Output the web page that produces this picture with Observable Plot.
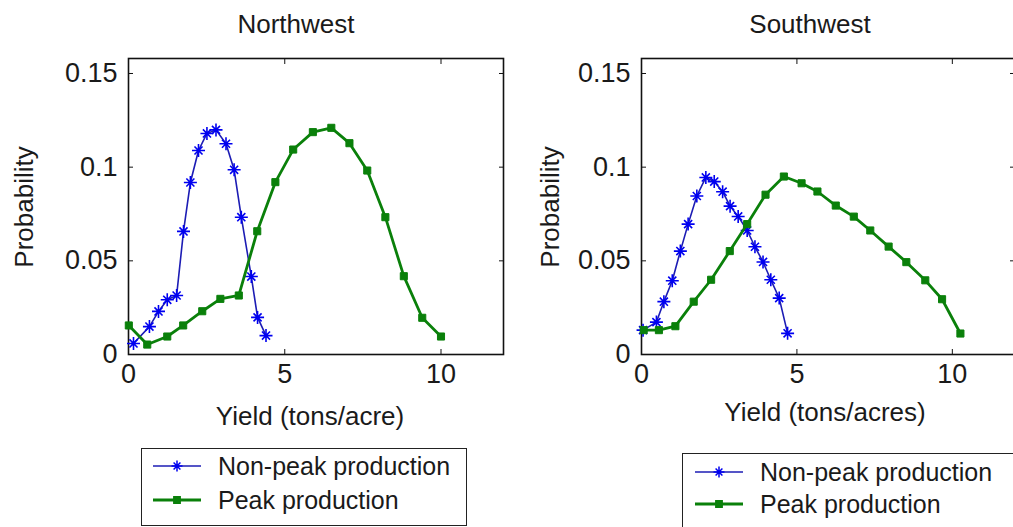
<!DOCTYPE html>
<html><head><meta charset="utf-8">
<script src="https://cdn.jsdelivr.net/npm/d3@7"></script>
<script src="https://cdn.jsdelivr.net/npm/@observablehq/plot@0.6"></script>
<style>
body{margin:0;background:#fff;}
#root{position:relative;width:1013px;height:527px;overflow:hidden;font-family:"Liberation Sans",Arial,sans-serif;color:#1a1a1a;background:#fff;}
.abs{position:absolute;white-space:nowrap;}
.panel{position:absolute;top:0;}
.panel svg{max-width:none !important;}
.legend{position:absolute;border:1.5px solid #222;background:#fff;}
</style></head><body><div id="root"></div>
<script>
// ---------- data ----------
const panelTitles = ["Northwest", "Southwest"];
const xLabels = ["Yield (tons/acre)", "Yield (tons/acres)"];
const yLabel = "Probability";
const seriesNames = ["Non-peak production", "Peak production"];
const xTicks = [0, 5, 10];
const xTickLabels = ["0", "5", "10"];
const yTicks = [0, 0.05, 0.1, 0.15];
const yTickLabels = ["0", "0.05", "0.1", "0.15"];

const nwNonPeakX = [0.16, 0.67, 0.96, 1.24, 1.54, 1.76, 1.98, 2.24, 2.51, 2.8, 3.12, 3.38, 3.61, 3.93, 4.13, 4.4];
const nwNonPeakY = [0.0059, 0.0149, 0.023, 0.0292, 0.0315, 0.0657, 0.0918, 0.1089, 0.118, 0.1199, 0.1125, 0.0986, 0.0733, 0.0416, 0.0198, 0.0101];
const nwPeakX = [0.01, 0.6, 1.24, 1.75, 2.36, 2.94, 3.53, 4.12, 4.7, 5.27, 5.9, 6.49, 7.07, 7.64, 8.22, 8.81, 9.4, 10.0];
const nwPeakY = [0.0155, 0.0053, 0.0096, 0.0155, 0.0231, 0.0297, 0.0315, 0.0658, 0.092, 0.1094, 0.1187, 0.121, 0.1128, 0.0982, 0.0733, 0.0418, 0.0196, 0.0096];

const swNonPeakX = [0.05, 0.48, 0.72, 0.99, 1.25, 1.5, 1.78, 2.07, 2.34, 2.61, 2.85, 3.11, 3.4, 3.65, 3.91, 4.16, 4.43, 4.7];
const swNonPeakY = [0.013, 0.0173, 0.0282, 0.0394, 0.0552, 0.0696, 0.0846, 0.0945, 0.0923, 0.0869, 0.0792, 0.0737, 0.0662, 0.0575, 0.0494, 0.0399, 0.0301, 0.0113];
const swPeakX = [0.07, 0.56, 1.09, 1.68, 2.24, 2.84, 3.4, 3.99, 4.58, 5.15, 5.66, 6.25, 6.83, 7.36, 7.95, 8.52, 9.13, 9.67, 10.26];
const swPeakY = [0.013, 0.013, 0.0151, 0.0282, 0.0399, 0.0552, 0.0696, 0.0853, 0.095, 0.0914, 0.087, 0.0795, 0.0736, 0.0662, 0.0576, 0.0493, 0.0396, 0.0295, 0.0112];

// ---------- styles ----------
const BLUE_LINE = "#1c1cb4", BLUE_MARK = "#0000f0", GREEN = "#0a800a";
const FONT = '"Liberation Sans", Arial, sans-serif';

// Matlab-like '*' marker: plus + times
const starSymbol = {
  draw(ctx, size) {
    const r = Math.sqrt(size / Math.PI);
    const d = r * 0.62;
    ctx.moveTo(-r, 0); ctx.lineTo(r, 0);
    ctx.moveTo(0, -r); ctx.lineTo(0, r);
    ctx.moveTo(-d, -d); ctx.lineTo(d, d);
    ctx.moveTo(-d, d); ctx.lineTo(d, -d);
  }
};

const zip = (xs, ys) => xs.map((x, i) => ({x, y: ys[i]}));

const root = document.getElementById("root");

function panel(cfg) {
  const nonPeak = zip(cfg.npx, cfg.npy);
  const peak = zip(cfg.px, cfg.py);
  const blank = () => "";
  const chart = Plot.plot({
    width: cfg.width, height: 400,
    marginLeft: cfg.ml, marginRight: cfg.mr, marginTop: 58, marginBottom: 46,
    style: {fontFamily: FONT, color: "#1a1a1a", background: "transparent", overflow: "visible", maxWidth: "none"},
    x: {domain: [0, 12]},
    y: {domain: [0, 0.158]},
    marks: [
      Plot.frame({stroke: "#111", strokeWidth: 1.6}),
      Plot.axisX({anchor: "bottom", ticks: xTicks, tickSize: 0, tickPadding: 9, fontSize: 27, tickFormat: (d) => xTickLabels[xTicks.indexOf(d)], label: null}),
      Plot.axisX({anchor: "bottom", ticks: xTicks, tickSize: -5, tickFormat: blank, label: null, stroke: "#111"}),
      Plot.axisX({anchor: "top", ticks: xTicks, tickSize: -5, tickFormat: blank, label: null, stroke: "#111"}),
      Plot.axisY({anchor: "left", ticks: yTicks, tickSize: 0, tickPadding: 11, fontSize: 27, tickFormat: d => yTickLabels[yTicks.indexOf(d)], label: null}),
      Plot.axisY({anchor: "left", ticks: yTicks, tickSize: -5, tickFormat: blank, label: null, stroke: "#111"}),
      Plot.axisY({anchor: "right", ticks: yTicks, tickSize: -5, tickFormat: blank, label: null, stroke: "#111"}),
      Plot.line(nonPeak, {x: "x", y: "y", stroke: BLUE_LINE, strokeWidth: 1.6}),
      Plot.dot(nonPeak, {x: "x", y: "y", symbol: starSymbol, r: 6.5, stroke: BLUE_MARK, strokeWidth: 1.6}),
      Plot.line(peak, {x: "x", y: "y", stroke: GREEN, strokeWidth: 2.8}),
      Plot.dot(peak, {x: "x", y: "y", symbol: "square", r: 4, fill: GREEN, stroke: GREEN, strokeWidth: 1})
    ]
  });
  chart.style.maxWidth = "none";
  const wrap = document.createElement("div");
  wrap.className = "panel";
  wrap.style.left = cfg.left + "px";
  wrap.style.width = cfg.width + "px";
  wrap.appendChild(chart);
  root.appendChild(wrap);
}

panel({left: 0, width: 520, ml: 128, mr: 17, npx: nwNonPeakX, npy: nwNonPeakY, px: nwPeakX, py: nwPeakY});
panel({left: 520, width: 520, ml: 121, mr: 26, npx: swNonPeakX, npy: swNonPeakY, px: swPeakX, py: swPeakY});

function text(str, cx, cy, size, rotate) {
  const d = document.createElement("div");
  d.className = "abs";
  d.textContent = str;
  d.style.fontSize = size + "px";
  d.style.left = cx + "px";
  d.style.top = cy + "px";
  d.style.lineHeight = "1";
  d.style.transform = "translate(-50%,-50%)" + (rotate ? " rotate(-90deg)" : "");
  root.appendChild(d);
  return d;
}

text(panelTitles[0], 296, 24, 26);
text(panelTitles[1], 810, 24, 26);
text(xLabels[0], 310, 416, 26);
text(xLabels[1], 825, 412, 26);
text(yLabel, 24, 207, 26, true);
text(yLabel, 550, 207, 26, true);

// ---------- legends ----------
function legend(box, rows) {
  const b = document.createElement("div");
  b.className = "legend";
  Object.assign(b.style, {left: box.x + "px", top: box.y + "px", width: box.w + "px", height: box.h + "px"});
  root.appendChild(b);
  rows.forEach(r => {
    const svg = d3.create("svg").attr("width", 60).attr("height", 20)
      .style("position", "absolute").style("left", (r.lx - 4) + "px").style("top", (r.cy - 10) + "px");
    svg.append("line").attr("x1", 4).attr("x2", 4 + r.len).attr("y1", 10).attr("y2", 10)
      .attr("stroke", r.lineColor).attr("stroke-width", r.lw);
    const sym = r.star ? starSymbol : d3.symbolSquare;
    svg.append("path").attr("transform", `translate(${4 + r.len / 2},10)`)
      .attr("d", d3.symbol(sym, r.star ? Math.PI * 5.5 * 5.5 : 40)())
      .attr("fill", r.star ? "none" : r.markColor).attr("stroke", r.markColor).attr("stroke-width", 1.5);
    root.appendChild(svg.node());
    const t = document.createElement("div");
    t.className = "abs";
    t.textContent = r.label;
    Object.assign(t.style, {left: r.tx + "px", top: (r.cy - 15) + "px", fontSize: "25px", lineHeight: "30px"});
    root.appendChild(t);
  });
}

legend({x: 141, y: 448, w: 324, h: 76}, [
  {label: seriesNames[0], lx: 153, len: 48, cy: 466, tx: 218, lineColor: BLUE_LINE, markColor: BLUE_MARK, lw: 1.5, star: true},
  {label: seriesNames[1], lx: 153, len: 48, cy: 500, tx: 218, lineColor: GREEN, markColor: GREEN, lw: 2.8, star: false}
]);
legend({x: 682, y: 453, w: 360, h: 90}, [
  {label: seriesNames[0], lx: 695, len: 48, cy: 472, tx: 760, lineColor: BLUE_LINE, markColor: BLUE_MARK, lw: 1.5, star: true},
  {label: seriesNames[1], lx: 695, len: 48, cy: 504, tx: 760, lineColor: GREEN, markColor: GREEN, lw: 2.8, star: false}
]);
</script></body></html>
